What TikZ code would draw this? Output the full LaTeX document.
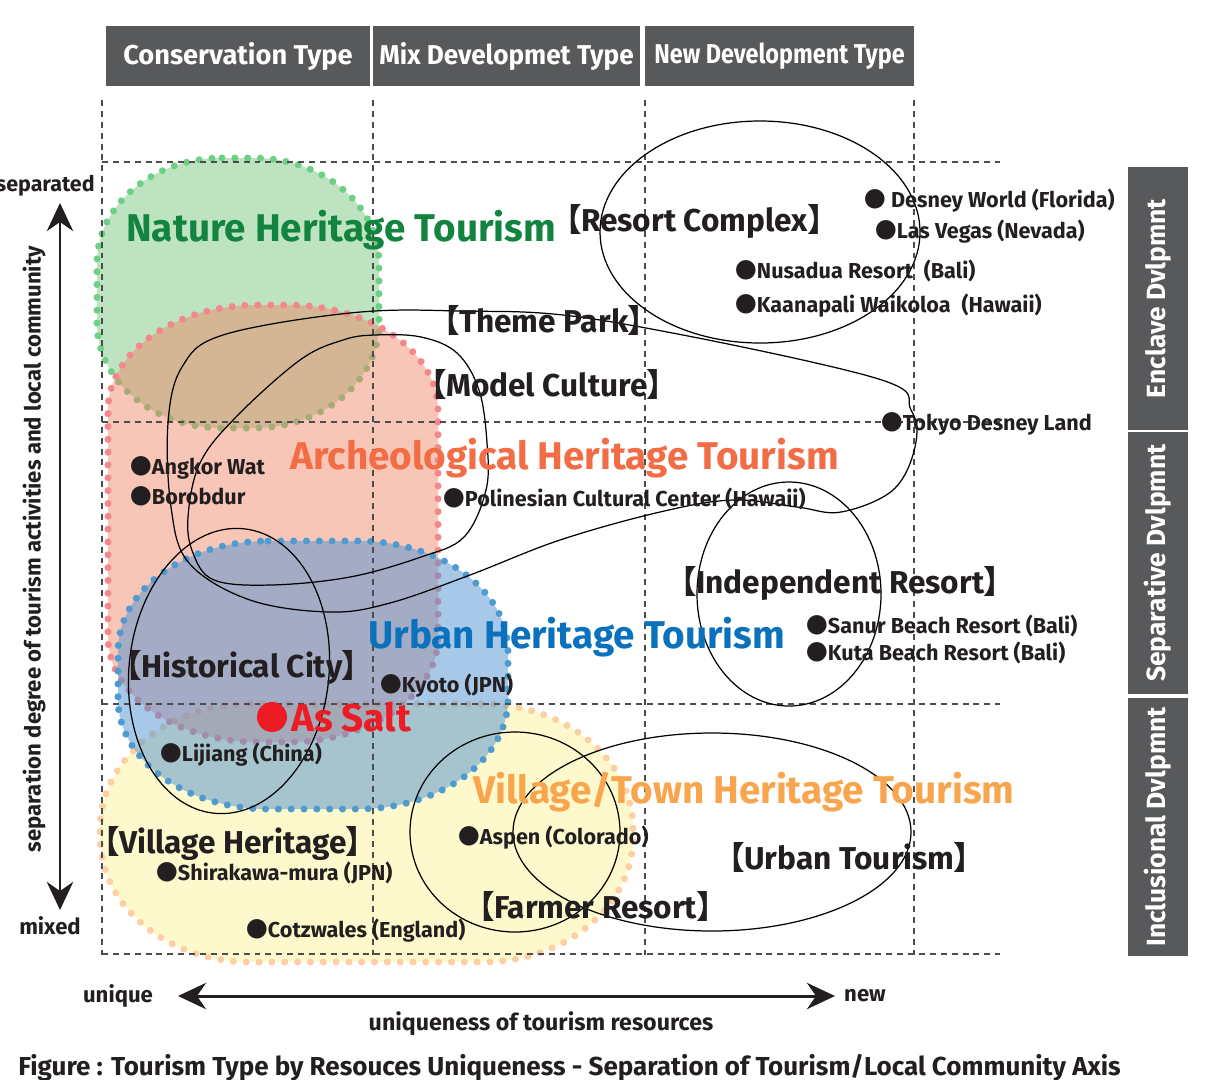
\documentclass[tikz,border=0pt]{standalone}
\usepackage{fontspec}
\setmainfont{Fira Sans}
\newfontfamily\cjk{Noto Sans CJK JP}[RawFeature=+palt]
\usetikzlibrary{positioning,arrows.meta}

\definecolor{panelgray}{HTML}{58595B}
\definecolor{ink}{HTML}{231F20}
\definecolor{greenbase}{HTML}{6CC173}
\definecolor{greendot}{HTML}{6ECF87}
\definecolor{salmonbase}{HTML}{F08060}
\definecolor{salmondot}{HTML}{F4878B}
\definecolor{bluebase}{HTML}{5191D1}
\definecolor{bluedot}{HTML}{4E9BD0}
\definecolor{yellowbase}{HTML}{FDF28E}
\definecolor{yellowdot}{HTML}{FCD0A4}
\definecolor{naturegreen}{HTML}{13843F}
\definecolor{archeored}{HTML}{F26C45}
\definecolor{urbanblue}{HTML}{0A71BD}
\definecolor{villageorange}{HTML}{F8A54E}
\definecolor{saltred}{HTML}{ED1C24}

\newcommand{\spot}{{\cjk\bfseries ●}}
\newcommand{\openbr}{{\cjk\bfseries 【}}
\newcommand{\closebr}{{\cjk\bfseries 】}}

% rounded box with elliptic corners: x1, y1, x2, y2, rx, ry
\tikzset{
  zone/.style n args={6}{insert path={
    ({#1+#5},#2) -- ({#3-#5},#2)
    .. controls ({#3-0.448*#5},#2) and (#3,{#2+0.448*#6}) .. (#3,{#2+#6})
    -- (#3,{#4-#6})
    .. controls (#3,{#4-0.448*#6}) and ({#3-0.448*#5},#4) .. ({#3-#5},#4)
    -- ({#1+#5},#4)
    .. controls ({#1+0.448*#5},#4) and (#1,{#4-0.448*#6}) .. (#1,{#4-#6})
    -- (#1,{#2+#6})
    .. controls (#1,{#2+0.448*#6}) and ({#1+0.448*#5},#2) .. ({#1+#5},#2) -- cycle}},
}

\begin{document}
\begin{tikzpicture}[
  x=0.02cm, y=-0.02cm,
  dots/.style={line width=4pt, dash pattern=on 0pt off 7.3pt, line cap=round},
  gridline/.style={line width=0.6pt, black!70, dash pattern=on 3.4pt off 2.8pt},
  outline/.style={line width=0.7pt, black},
  axis/.style={line width=1.7pt, ink,
               {Stealth[length=16pt,width=15pt]}-{Stealth[length=16pt,width=15pt]}},
  head/.style={fill=panelgray, text=white, inner sep=0pt,
               font=\fontsize{15.5}{15.5}\selectfont\bfseries, minimum height=1.2cm},
  side/.style={head, rotate=90, font=\fontsize{15}{15}\selectfont\bfseries},
  note/.style={inner sep=0pt, text=ink, font=\fontsize{12.6}{12.6}\selectfont\bfseries},
  site/.style={anchor=west, inner sep=0pt, text=ink,
               font=\fontsize{12.3}{12.3}\selectfont\bfseries},
  tag/.style={anchor=west, inner sep=0pt, text=ink,
              font=\fontsize{18}{18}\selectfont\bfseries},
  kind/.style={anchor=west, inner sep=0pt,
               font=\fontsize{22}{22}\selectfont\bfseries},
]
\useasboundingbox (0,0) rectangle (1209,1079);

% --- Heritage zones, back to front ---
\path[fill=yellowbase, fill opacity=0.45, draw=yellowdot, dots,
      zone={100}{704}{633}{962}{150}{125}];
\path[fill=greenbase, fill opacity=0.45, draw=greendot, dots,
      zone={97}{158}{379}{428}{125}{105}];
\path[fill=salmonbase, fill opacity=0.45, draw=salmondot, dots,
      zone={108}{305}{438}{742}{150}{105}];
\path[fill=bluebase, fill opacity=0.5, draw=bluedot, dots,
      zone={118}{541}{508}{809}{150}{110}];

% --- Dashed grid ---
\foreach \gx in {102,373,645,914}
  \draw[gridline] (\gx,100) -- (\gx,955);
\foreach \gy in {162,422,704,954}
  \draw[gridline] (102,\gy) -- (1000,\gy);

% --- Type headers and side bands ---
\node[head, minimum width=5.28cm] (cons)   at (238,56)   {Conservation Type};
\node[head, minimum width=5.34cm] (mixdev) at (506.5,56)
  {\addfontfeature{FakeStretch=0.96}Mix Developmet Type};
\node[head, minimum width=5.38cm] (newdev) at (779.5,56)
  {\addfontfeature{FakeStretch=0.86}New Development Type};

\node[side, minimum width=5.26cm] (enclave)     at (1158,298.5) {Enclave Dvlpmnt};
\node[side, minimum width=5.24cm] (separative)  at (1158,563)   {Separative Dvlpmnt};
\node[side, minimum width=5.16cm] (inclusional) at (1158,827)   {Inclusional Dvlpmnt};

% --- Outlines of the tourism types ---
\draw[outline] (760,232) ellipse [x radius=160, y radius=111];
\draw[outline] (789,594) ellipse [x radius=92, y radius=112];
\draw[outline, rotate around={-6:(229,671)}] (229,671) ellipse [x radius=100, y radius=143];
\draw[outline] (515,832) ellipse [x radius=105, y radius=100];
\draw[outline] (712,832) ellipse [x radius=199, y radius=99];
% theme park loop
\draw[outline] plot[smooth cycle, tension=0.6] coordinates {
  (223,335) (350,313) (457,311) (600,320) (872,377) (911,410) (915,447)
  (893,490) (841,512) (797,507) (733,500) (660,512) (560,540) (470,575)
  (390,603) (330,612) (250,600) (189,563) (171,507) (168,423) (182,367)};
% model culture loop
\draw[outline] plot[smooth cycle, tension=0.6] coordinates {
  (375,335) (421,337) (457,353) (479,390) (487,443) (486,490) (464,537)
  (421,557) (350,577) (271,585) (214,580) (193,553) (188,517) (200,463)
  (236,417) (300,360) (343,340)};

% --- Axes ---
\node[note, anchor=east, font=\fontsize{12.2}{12.2}\selectfont\bfseries] (separated) at (95,186) {separated};
\node[note] (mixed) at (50,926) {mixed};
\coordinate (ytop) at (60,203);
\coordinate (ybot) at (60,910);
\draw[axis] (ytop) -- (ybot);
\node[note, rotate=90] (sepaxis) at (34,549)
  {separation degree of tourism activities and local community};

\node[note] (unique) at (118,996) {unique};
\node[note] (new) at (865,996) {new};
\coordinate (xleft) at (178,996);
\coordinate (xright) at (835,996);
\draw[axis] (xleft) -- (xright);
\node[note, font=\fontsize{13.2}{13.2}\selectfont\bfseries] (resources) at (541,1024)
  {uniqueness of tourism resources};

\node[note, anchor=west, font=\fontsize{14.8}{14.8}\selectfont\bfseries] (caption) at (18,1068)
  {Figure : Tourism Type by Resouces Uniqueness - Separation of Tourism/Local Community Axis};

% --- Zone names ---
\node[kind, text=naturegreen]   (nature)  at (126,230) {Nature Heritage Tourism};
\node[kind, text=archeored]     (archeo)  at (290,458) {Archeological Heritage Tourism};
\node[kind, text=urbanblue]     (urban)   at (368,637) {Urban Heritage Tourism};
\node[kind, text=villageorange] (village) at (473,792) {Village/Town Heritage Tourism};

% --- Bracketed types ---
\node[tag] (resort)   at (565,221) {\openbr Resort Complex\closebr};
\node[tag] (theme)    at (443,320) {\openbr Theme Park\closebr};
\node[tag] (model)    at (430,384) {\openbr Model Culture\closebr};
\node[tag] (indep)    at (680,583) {\openbr Independent Resort\closebr};
\node[tag] (histcity) at (125,667) {\openbr Historical City\closebr};
\node[tag] (villher)  at (103,843) {\openbr Village Heritage\closebr};
\node[tag] (urbtour)  at (728,857) {\openbr Urban Tourism\closebr};
\node[tag] (farmer)   at (478,906) {\openbr Farmer Resort\closebr};

% --- Sites ---
\node[site] (disney)    at (864,201) {\spot\ Desney World (Florida)};
\node[site] (vegas)     at (875,232) {\spot Las Vegas (Nevada)};
\node[site] (nusadua)   at (735,271) {\spot Nusadua Resort\enspace(Bali)};
\node[site] (kaanapali) at (735,306) {\spot Kaanapali Waikoloa\enspace(Hawaii)};
\node[site] (tokyo)     at (881,424) {\spot Tokyo Desney Land};
\node[site] (angkor)    at (130,468) {\spot Angkor Wat};
\node[site] (borobudur) at (130,496) {\spot Borobdur};
\node[site] (polynesia) at (443,499) {\spot Polinesian Cultural Center (Hawaii)};
\node[site] (sanur)     at (806,626) {\spot Sanur Beach Resort (Bali)};
\node[site] (kuta)      at (806,653) {\spot Kuta Beach Resort (Bali)};
\node[site] (kyoto)     at (380,686) {\spot Kyoto (JPN)};
\node[site] (lijiang)   at (160,755) {\spot Lijiang (China)};
\node[site] (aspen)     at (458,838) {\spot Aspen (Colorado)};
\node[site] (shirakawa) at (156,873) {\spot Shirakawa-mura (JPN)};
\node[site] (cotswolds) at (246,931) {\spot Cotzwales (England)};

% the case itself
\node[circle, fill=saltred, minimum size=0.6cm, inner sep=0pt] (saltdot) at (272,717) {};
\node[kind, text=saltred, right=2pt of saltdot] (assalt) {As Salt};

\end{tikzpicture}
\end{document}
